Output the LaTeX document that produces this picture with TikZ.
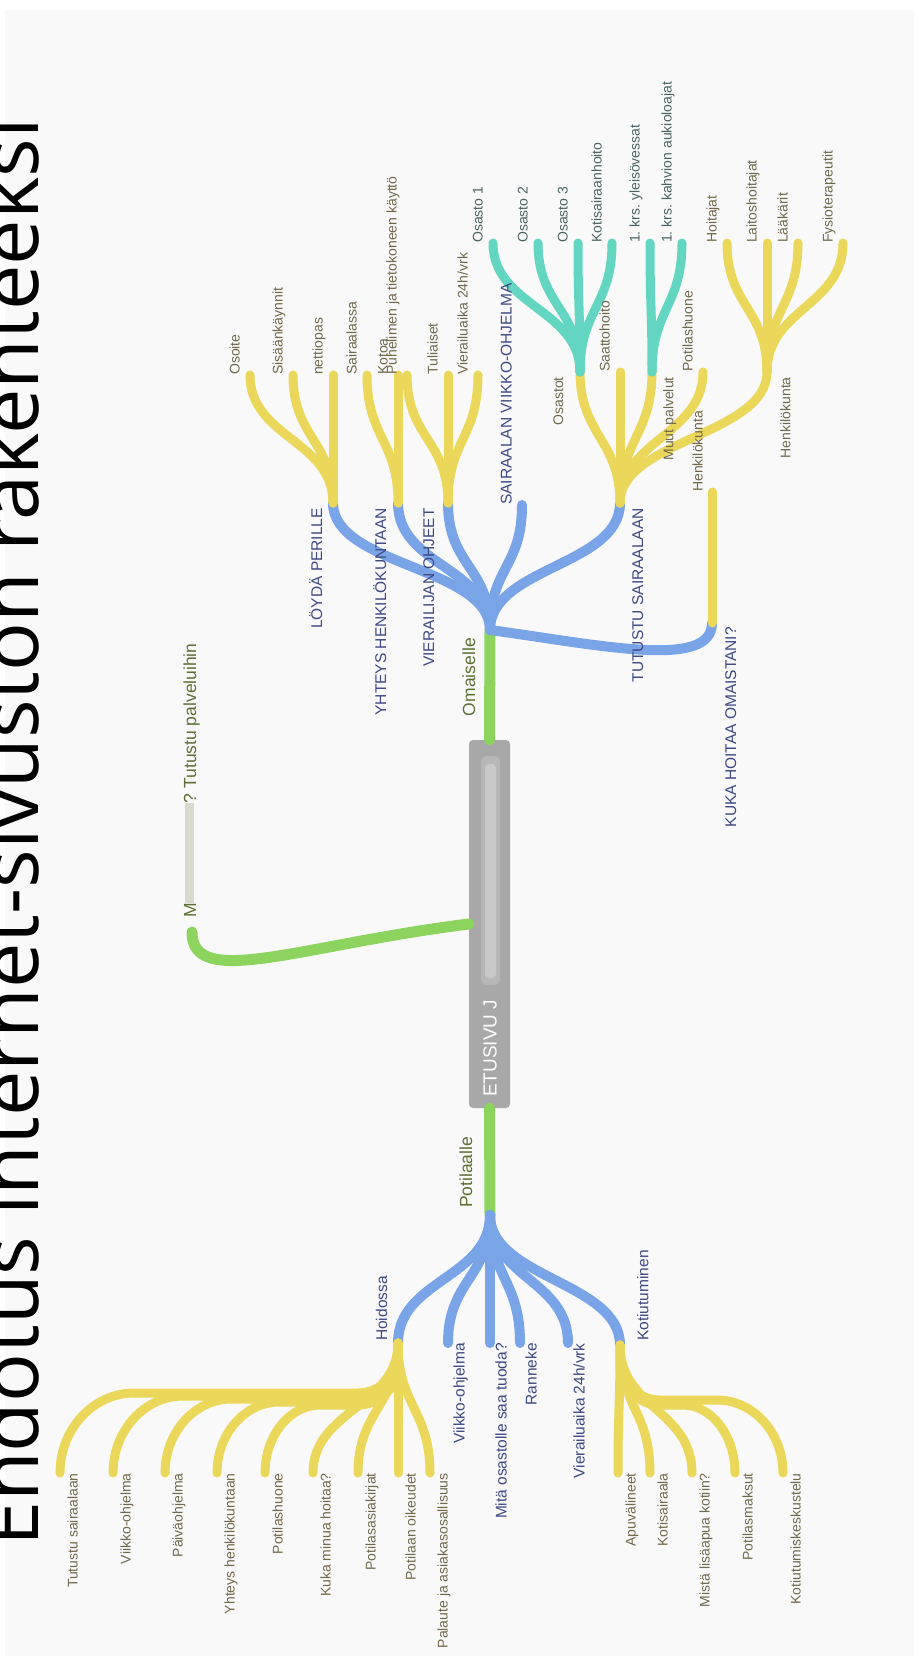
\documentclass[tikz,border=0pt]{standalone}
\usepackage{fontspec}
\setmainfont{Liberation Sans}
\newfontfamily\titlefont{Open Sans}
\usetikzlibrary{calc}
\frenchspacing
\definecolor{bgc}{RGB}{249,249,249}
\definecolor{yel}{RGB}{235,215,90}
\definecolor{blu}{RGB}{122,164,232}
\definecolor{tea}{RGB}{98,214,192}
\definecolor{grn}{RGB}{140,212,94}
\definecolor{boxg}{RGB}{168,168,168}
\definecolor{tyel}{RGB}{112,104,74}
\definecolor{ttea}{RGB}{74,98,98}
\definecolor{tblu}{RGB}{62,72,130}
\definecolor{tgrn}{RGB}{92,112,52}
\tikzset{
  ybr/.style={draw=yel, line width=9pt, line cap=round, line join=round},
  bbr/.style={draw=blu, line width=10pt, line cap=round, line join=round},
  tbr/.style={draw=tea, line width=9pt, line cap=round, line join=round},
  gbr/.style={draw=grn, line width=11pt, line cap=round},
  lbl/.style={rotate=90, inner sep=0pt, font=\fontsize{14}{16}\selectfont},
  leafy/.style={lbl, text=tyel},
  leaft/.style={lbl, text=ttea},
  bl/.style={rotate=90, inner sep=0pt, font=\fontsize{15.5}{18}\selectfont, text=tblu},
  gl/.style={rotate=90, inner sep=0pt, font=\fontsize{17.5}{20}\selectfont, text=tgrn},
  topleaf/.style={anchor=mid west, yshift=13pt},
  botleaf/.style={anchor=mid east, yshift=-15pt},
}
% branch from a junction up / down to a child, vertical tangents at both ends
\newcommand\upbr[3]{\draw[#1] (#2) .. controls +(0,-63) and +(0,63) .. (#3);}
\newcommand\dnbr[3]{\draw[#1] (#2) .. controls +(0,63) and +(0,-63) .. (#3);}
% long sideways branch: down from the junction, round bend (radius 40, side #5),
% along a band at height #4, then a round bend (offset #6) down into the child
\newcommand\fan[6]{%
  \coordinate (eb) at (0,#4);
  \coordinate (fa) at (#2 |- eb);
  \coordinate (fb) at (#3 |- eb);
  \draw[#1] (#2) -- ($(fa)+(0,-40)$)
     .. controls ($(fa)+(0,-18)$) and ($(fa)+(0.45*#5,0)$) .. ($(fa)+(#5,0)$)
     -- ($(fb)+(#6,0)$)
     .. controls ($(fb)+(0.45*#6,0)$) and ($(#3)!0.55!(fb)$) .. (#3);}
\begin{document}
\begin{tikzpicture}[x=1pt,y=-1pt]
\useasboundingbox (0,0) rectangle (914,1656);
\clip (0,0) rectangle (914,1656);
\fill[white] (0,0) rectangle (914,1656);
\fill[bgc] (5,10) rectangle (914,1656);

% ---------- junction and end points ----------
\coordinate (h1) at (490,630);
\coordinate (h2) at (490,1215);
% Omaiselle, second level
\coordinate (lp) at (333,503);
\coordinate (yh) at (398,503);
\coordinate (vo) at (448,503);
\coordinate (sv) at (522,505);
\coordinate (ts) at (620,503);
\coordinate (kh) at (712,623);
% third level
\coordinate (osoite) at (250,375);
\coordinate (sisaan) at (293,375);
\coordinate (netti) at (333,375);
\coordinate (sair) at (367,375);
\coordinate (kotoa) at (398,375);
\coordinate (puhel) at (407,375);
\coordinate (tulia) at (448,375);
\coordinate (vier) at (478,375);
\coordinate (ost) at (580,372);
\coordinate (saat) at (620,372);
\coordinate (muut) at (652,372);
\coordinate (poth) at (703,372);
\coordinate (hk) at (767,372);
\coordinate (hk2) at (712,492);
% fourth level
\coordinate (os1) at (493,243);
\coordinate (os2) at (538,243);
\coordinate (os3) at (578,243);
\coordinate (ksh) at (612,243);
\coordinate (yl) at (650,243);
\coordinate (kahv) at (682,243);
\coordinate (hoit) at (727,243);
\coordinate (lait) at (767,243);
\coordinate (laak) at (798,243);
\coordinate (fys) at (843,243);
% Potilaalle, second level
\coordinate (hoid) at (398,1343);
\coordinate (vko) at (448,1343);
\coordinate (mita) at (490,1343);
\coordinate (ranne) at (520,1343);
\coordinate (vier2) at (568,1343);
\coordinate (kotiu) at (620,1345);
% third level
\coordinate (tsa) at (60,1473);
\coordinate (vko2) at (113,1473);
\coordinate (paiv) at (165,1473);
\coordinate (yht) at (217,1473);
\coordinate (phu) at (265,1473);
\coordinate (kuka) at (313,1473);
\coordinate (pak) at (358,1473);
\coordinate (poik) at (398,1473);
\coordinate (pal) at (430,1473);
\coordinate (apu) at (618,1473);
\coordinate (ksa) at (650,1473);
\coordinate (mista) at (692,1473);
\coordinate (pmak) at (735,1473);
\coordinate (kesk) at (783,1473);
\coordinate (tp) at (192,932);

% ---------- central node ----------
\node[fill=boxg, rounded corners=4pt, minimum width=41pt, minimum height=368pt, inner sep=0pt] (root) at (489.5,924) {};

% ---------- green first-level branches ----------
\draw[gbr] (root.north) -- (h1);
\draw[gbr] (root.south) -- (h2);
\draw[gbr] (root.west) .. controls (300,945) and (192,990) .. (tp);

% ---------- Omaiselle ----------
\upbr{bbr}{h1}{lp}
\upbr{bbr}{h1}{yh}
\upbr{bbr}{h1}{vo}
\upbr{bbr}{h1}{sv}
\upbr{bbr}{h1}{ts}
\draw[bbr] (h1) .. controls (600,645) and (712,670) .. (kh);

\upbr{ybr}{lp}{osoite}
\upbr{ybr}{lp}{sisaan}
\upbr{ybr}{lp}{netti}
\upbr{ybr}{yh}{sair}
\upbr{ybr}{yh}{kotoa}
\upbr{ybr}{vo}{puhel}
\upbr{ybr}{vo}{tulia}
\upbr{ybr}{vo}{vier}
\upbr{ybr}{ts}{ost}
\upbr{ybr}{ts}{saat}
\upbr{ybr}{ts}{muut}
\upbr{ybr}{ts}{poth}
\upbr{ybr}{ts}{hk}
\draw[ybr] (kh) -- (hk2);

\upbr{tbr}{ost}{os1}
\upbr{tbr}{ost}{os2}
\upbr{tbr}{ost}{os3}
\upbr{tbr}{ost}{ksh}
\upbr{tbr}{muut}{yl}
\upbr{tbr}{muut}{kahv}
\upbr{ybr}{hk}{hoit}
\upbr{ybr}{hk}{lait}
\upbr{ybr}{hk}{laak}
\upbr{ybr}{hk}{fys}

% ---------- Potilaalle ----------
\dnbr{bbr}{h2}{hoid}
\dnbr{bbr}{h2}{vko}
\dnbr{bbr}{h2}{mita}
\dnbr{bbr}{h2}{ranne}
\dnbr{bbr}{h2}{vier2}
\dnbr{bbr}{h2}{kotiu}

\fan{ybr}{hoid}{tsa}{1393}{-40}{74}
\fan{ybr}{hoid}{vko2}{1396}{-40}{70}
\fan{ybr}{hoid}{paiv}{1399}{-40}{66}
\fan{ybr}{hoid}{yht}{1402}{-40}{62}
\fan{ybr}{hoid}{phu}{1405}{-40}{55}
\dnbr{ybr}{hoid}{kuka}
\dnbr{ybr}{hoid}{pak}
\dnbr{ybr}{hoid}{poik}
\dnbr{ybr}{hoid}{pal}
\dnbr{ybr}{kotiu}{apu}
\dnbr{ybr}{kotiu}{ksa}
\dnbr{ybr}{kotiu}{mista}
\fan{ybr}{kotiu}{pmak}{1405}{40}{-52}
\fan{ybr}{kotiu}{kesk}{1400}{40}{-66}

% ---------- central label ----------
\node[rotate=90, anchor=west, inner sep=0pt, text=white, font=\fontsize{19}{19}\selectfont] (rootlbl) at (490,1097) {ETUSIVU J};
\fill[white, opacity=0.18, rounded corners=6pt] (481,985) rectangle (500,756);
\fill[white, opacity=0.25, rounded corners=4pt] (485,978) rectangle (496,764);

% ---------- first-level labels ----------
\node[gl, anchor=base east] (omlbl) at (475,638) {Omaiselle};
\node[gl, anchor=base west] (polbl) at (472,1208) {Potilaalle};
\node[gl, anchor=base west] (tplbl) at (196,918) {M\textcolor{tgrn!25}{\rule[0.1em]{100pt}{0.55em}}? Tutustu palveluihin};

% ---------- Omaiselle labels ----------
\node[bl, anchor=base east] (lplbl) at (322,508) {LÖYDÄ PERILLE};
\node[bl, anchor=base east] (yhlbl) at (386,508) {YHTEYS HENKILÖKUNTAAN};
\node[bl, anchor=base east] (volbl) at (434,508) {VIERAILIJAN OHJEET};
\node[bl, topleaf] (svlbl) at (sv) {SAIRAALAN VIIKKO-OHJELMA};
\node[bl, anchor=north east] (tslbl) at (632,508) {TUTUSTU SAIRAALAAN};
\node[bl, anchor=north east] (khlbl) at (725,627) {KUKA HOITAA OMAISTANI?};

\node[leafy, topleaf] (l1) at (osoite) {Osoite};
\node[leafy, topleaf] (l2) at (sisaan) {Sisäänkäynnit};
\node[leafy, topleaf] (l3) at (netti) {nettiopas};
\node[leafy, topleaf] (l4) at (sair) {Sairaalassa};
\node[leafy, topleaf] (l5) at (kotoa) {Kotoa};
\node[leafy, topleaf] (l6) at (puhel) {Puhelimen ja tietokoneen käyttö};
\node[leafy, topleaf] (l7) at (tulia) {Tuliaiset};
\node[leafy, topleaf] (l8) at (vier) {Vierailuaika 24h/vrk};
\node[leafy, anchor=base east] (l9) at (563,377) {Osastot};
\node[leafy, topleaf] (l10) at (saat) {Saattohoito};
\node[leafy, anchor=north east] (l11) at (663,377) {Muut palvelut};
\node[leafy, topleaf] (l12) at (poth) {Potilashuone};
\node[leafy, anchor=north east] (l13) at (780,377) {Henkilökunta};
\node[leafy, anchor=mid west, yshift=12pt] (l14) at (hk2) {Henkilökunta};

\node[leaft, topleaf] (t1) at (os1) {Osasto 1};
\node[leaft, topleaf] (t2) at (os2) {Osasto 2};
\node[leaft, topleaf] (t3) at (os3) {Osasto 3};
\node[leaft, topleaf] (t4) at (ksh) {Kotisairaanhoito};
\node[leaft, topleaf] (t5) at (yl) {1. krs. yleisövessat};
\node[leaft, topleaf] (t6) at (kahv) {1. krs. kahvion aukioloajat};
\node[leafy, topleaf] (l15) at (hoit) {Hoitajat};
\node[leafy, topleaf] (l16) at (lait) {Laitoshoitajat};
\node[leafy, topleaf] (l17) at (laak) {Lääkärit};
\node[leafy, topleaf] (l18) at (fys) {Fysioterapeutit};

% ---------- Potilaalle labels ----------
\node[bl, anchor=base west] (hoidlbl) at (387,1341) {Hoidossa};
\node[bl, anchor=mid east, yshift=-14pt] (vkolbl) at (vko) {Viikko-ohjelma};
\node[bl, anchor=mid east, yshift=-14pt] (mitalbl) at (mita) {Mitä osastolle saa tuoda?};
\node[bl, anchor=mid east, yshift=-14pt] (rannelbl) at (ranne) {Ranneke};
\node[bl, anchor=mid east, yshift=-14pt] (vierlbl) at (vier2) {Vierailuaika 24h/vrk};
\node[bl, anchor=north west] (kotiulbl) at (637,1341) {Kotiutuminen};

\node[leafy, botleaf] (b1) at (tsa) {Tutustu sairaalaan};
\node[leafy, botleaf] (b2) at (vko2) {Viikko-ohjelma};
\node[leafy, botleaf] (b3) at (paiv) {Päiväohjelma};
\node[leafy, botleaf] (b4) at (yht) {Yhteys henkilökuntaan};
\node[leafy, botleaf] (b5) at (phu) {Potilashuone};
\node[leafy, botleaf] (b6) at (kuka) {Kuka minua hoitaa?};
\node[leafy, botleaf] (b7) at (pak) {Potilasasiakirjat};
\node[leafy, botleaf] (b8) at (poik) {Potilaan oikeudet};
\node[leafy, botleaf] (b9) at (pal) {Palaute ja asiakasosallisuus};
\node[leafy, botleaf] (b10) at (apu) {Apuvälineet};
\node[leafy, botleaf] (b11) at (ksa) {Kotisairaala};
\node[leafy, botleaf] (b12) at (mista) {Mistä lisäapua kotiin?};
\node[leafy, botleaf] (b13) at (pmak) {Potilasmaksut};
\node[leafy, botleaf] (b14) at (kesk) {Kotiutumiskeskustelu};

% ---------- title ----------
\node[rotate=90, anchor=base west, inner sep=0pt, text=black, font=\titlefont\fontsize{81}{81}\selectfont] (title) at (38,1547) {Ehdotus internet-sivuston rakenteeksi};
\end{tikzpicture}
\end{document}
